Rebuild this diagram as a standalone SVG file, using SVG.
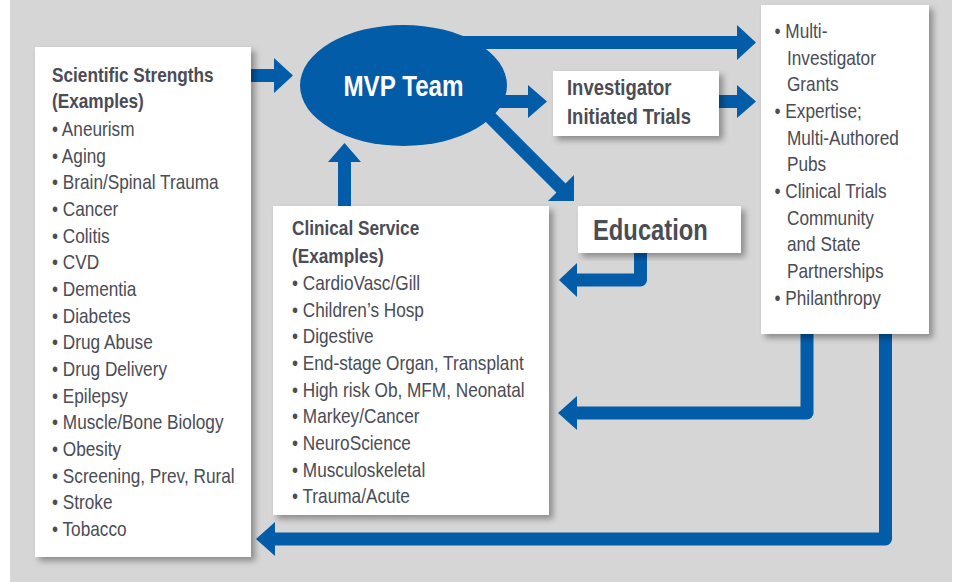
<svg xmlns="http://www.w3.org/2000/svg" width="956" height="582" viewBox="0 0 956 582">
<defs>
<filter id="sh" x="-10%" y="-10%" width="125%" height="125%">
<feDropShadow dx="4" dy="4" stdDeviation="3" flood-color="#000" flood-opacity="0.35"/>
</filter>
</defs>
<style>
text{font-family:"Liberation Sans",Arial,sans-serif;fill:#4a4c56;font-size:21px}
.h{font-weight:bold}
.box{fill:#fff;filter:url(#sh)}
.ar{fill:#035ca8}
.ln{fill:none;stroke:#035ca8;stroke-width:13;stroke-linejoin:round}
</style>
<rect x="10" y="0" width="942" height="582" fill="#d6d6d6"/>
<g id="connectors">
<rect class="ar" x="250" y="69" width="25" height="13"/>
<polygon class="ar" points="274,58 293,75.5 274,93"/>
<rect class="ar" x="440" y="36" width="298" height="13"/>
<polygon class="ar" points="737,25 756,42.5 737,60"/>
<rect class="ar" x="490" y="95" width="39" height="13"/>
<polygon class="ar" points="528,85 547,101.5 528,118"/>
<rect class="ar" x="718" y="95" width="20" height="13"/>
<polygon class="ar" points="737,85 756,101.5 737,118"/>
<line class="ln" x1="460" y1="87" x2="562" y2="189" stroke-linejoin="miter"/>
<polygon class="ar" points="548,201 574,201 574,175"/>
<rect class="ar" x="338" y="160" width="13" height="48"/>
<polygon class="ar" points="328,162 344.5,143 361,162"/>
<path class="ln" d="M640.5,250 V280 H576"/>
<polygon class="ar" points="577,263 559,280 577,297"/>
<path class="ln" d="M807,330 V413 H576"/>
<polygon class="ar" points="577,396 558,413 577,430"/>
<path class="ln" d="M885.5,330 V539 H274"/>
<polygon class="ar" points="275,522 256,539 275,556"/>
</g>
<g id="scientific">
<rect class="box" x="35" y="47" width="216" height="510"/>
<g transform="translate(52 0) scale(0.82 1)">
<text class="h" x="0" y="82">Scientific Strengths</text>
<text class="h" x="0" y="108.5">(Examples)</text>
<text x="0" y="136">• Aneurism</text>
<text x="0" y="162.7">• Aging</text>
<text x="0" y="189.3">• Brain/Spinal Trauma</text>
<text x="0" y="216">• Cancer</text>
<text x="0" y="242.7">• Colitis</text>
<text x="0" y="269.3">• CVD</text>
<text x="0" y="296">• Dementia</text>
<text x="0" y="322.7">• Diabetes</text>
<text x="0" y="349.3">• Drug Abuse</text>
<text x="0" y="376">• Drug Delivery</text>
<text x="0" y="402.7">• Epilepsy</text>
<text x="0" y="429.3">• Muscle/Bone Biology</text>
<text x="0" y="456">• Obesity</text>
<text x="0" y="482.7">• Screening, Prev, Rural</text>
<text x="0" y="509.3">• Stroke</text>
<text x="0" y="536">• Tobacco</text>
</g>
</g>
<g id="mvp">
<ellipse cx="403.5" cy="85.5" rx="103.5" ry="60.5" fill="#035ca8"/>
<text class="h" x="0" y="96" text-anchor="middle" transform="translate(403.5 0) scale(0.82 1)" style="fill:#fff;font-size:29.5px">MVP Team</text>
</g>
<g id="investigator">
<rect class="box" x="553" y="71" width="166" height="65"/>
<g transform="translate(567 0) scale(0.82 1)">
<text class="h" x="0" y="95" style="font-size:22.5px">Investigator</text>
<text class="h" x="0" y="124" style="font-size:22.5px">Initiated Trials</text>
</g>
</g>
<g id="education">
<rect class="box" x="578" y="206" width="163" height="47"/>
<text class="h" x="0" y="240" transform="translate(593 0) scale(0.82 1)" style="font-size:29px">Education</text>
</g>
<g id="clinical">
<rect class="box" x="273" y="206" width="276" height="309"/>
<g transform="translate(292 0) scale(0.82 1)">
<text class="h" x="0" y="235">Clinical Service</text>
<text class="h" x="0" y="263">(Examples)</text>
<text x="0" y="290">• CardioVasc/Gill</text>
<text x="0" y="316.7">• Children’s Hosp</text>
<text x="0" y="343.3">• Digestive</text>
<text x="0" y="370">• End-stage Organ, Transplant</text>
<text x="0" y="396.7">• High risk Ob, MFM, Neonatal</text>
<text x="0" y="423.3">• Markey/Cancer</text>
<text x="0" y="450">• NeuroScience</text>
<text x="0" y="476.7">• Musculoskeletal</text>
<text x="0" y="503.3">• Trauma/Acute</text>
</g>
</g>
<g id="outcomes">
<rect class="box" x="761" y="5" width="168" height="329"/>
<g transform="translate(774.5 0) scale(0.82 1)">
<text x="0" y="38">• Multi-</text>
<text x="15.2" y="64.7">Investigator</text>
<text x="15.2" y="91.3">Grants</text>
<text x="0" y="118">• Expertise;</text>
<text x="15.2" y="144.7">Multi-Authored</text>
<text x="15.2" y="171.3">Pubs</text>
<text x="0" y="198">• Clinical Trials</text>
<text x="15.2" y="224.7">Community</text>
<text x="15.2" y="251.3">and State</text>
<text x="15.2" y="278">Partnerships</text>
<text x="0" y="304.7">• Philanthropy</text>
</g>
</g>
</svg>
